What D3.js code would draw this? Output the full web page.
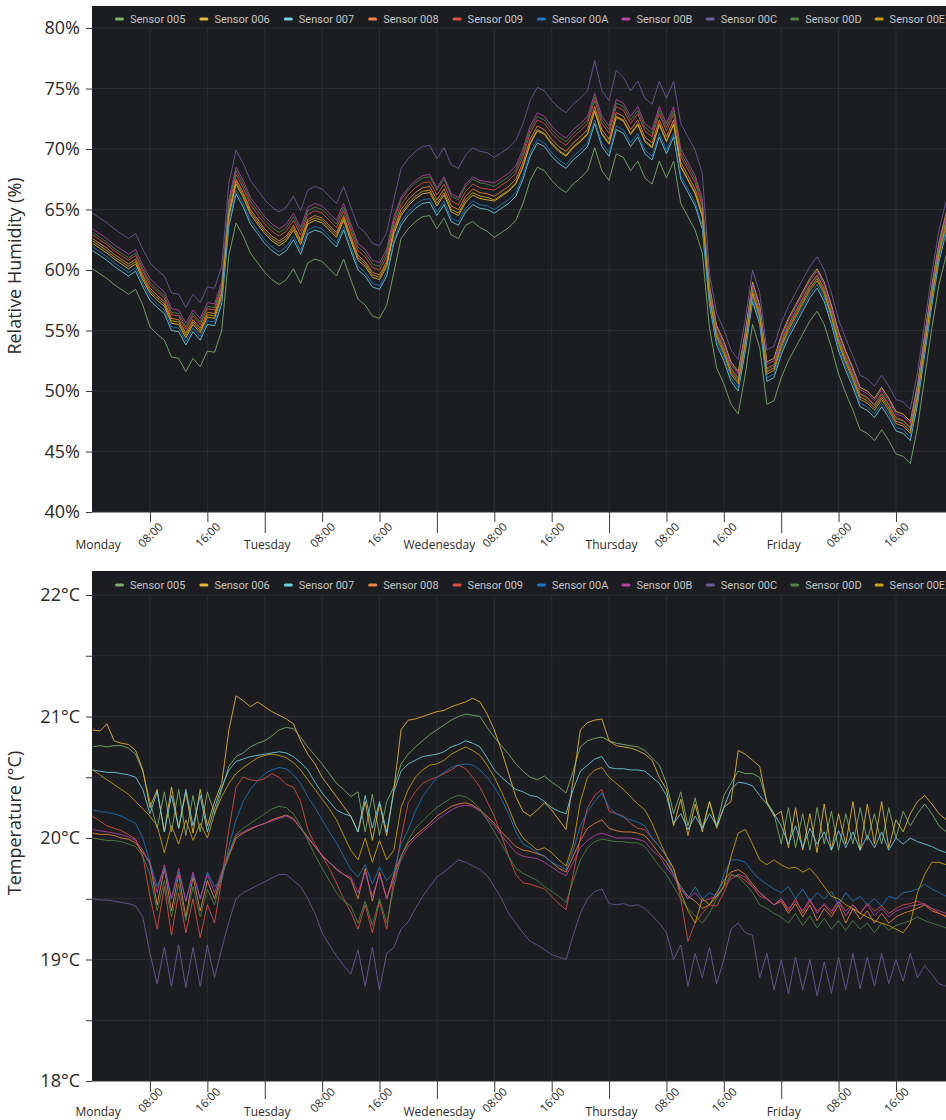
<!DOCTYPE html>
<html>
<head>
<meta charset="utf-8">
<script src="https://cdnjs.cloudflare.com/ajax/libs/d3/7.8.5/d3.min.js"></script>
<style>
  body { margin: 0; background: #ffffff; }
  svg { display: block; }
  .legend { font-family: Roboto, sans-serif; font-size: 11px; fill: #c4c4c4; }
  .axis text { font-family: "Open Sans", sans-serif; fill: #2a2a2a; }
</style>
</head>
<body>
<div id="main"></div>
<script>
'use strict'

const sensors = ["Sensor 005", "Sensor 006", "Sensor 007", "Sensor 008", "Sensor 009",
                 "Sensor 00A", "Sensor 00B", "Sensor 00C", "Sensor 00D", "Sensor 00E"];
const sensorColors = ["#7eb26d", "#eab839", "#6ed0e0", "#ef843c", "#e24d42",
                      "#1f78c1", "#ba43a9", "#705da0", "#508642", "#cca300"];

const dayLabels = ["Monday", "Tuesday", "Wedenesday", "Thursday", "Friday"];
const hourLabels = ["08:00", "16:00"];
const xTicks = [0, 8, 16, 24, 32, 40, 48, 56, 64, 72, 80, 88, 96, 104, 112];
const humidityTicks = [40, 45, 50, 55, 60, 65, 70, 75, 80];
const tempTicks = [18, 18.5, 19, 19.5, 20, 20.5, 21, 21.5, 22];

// hourly readings, Monday 00:00 .. Saturday 00:00
const hum005 = [60.1,59.7,59.3,58.8,58.4,58.0,58.4,57.1,55.3,54.7,54.2,52.8,52.7,51.6,52.7,52.0,53.3,53.2,55.0,
  61.2,63.9,62.8,61.4,60.6,59.8,59.2,58.8,59.2,60.1,58.9,60.6,60.9,60.7,60.1,59.5,60.9,59.2,57.6,57.1,56.2,56.0,57.1,59.8,
  62.6,63.4,64.0,64.4,64.5,63.4,64.3,62.9,62.6,63.7,64.0,63.5,63.2,
  62.7,63.1,63.5,64.1,65.5,67.4,68.5,68.2,67.4,66.8,66.4,67.1,67.6,68.2,70.1,68.2,67.4,69.6,69.3,68.2,69.0,67.6,67.1,69.0,67.6,69.0,65.5,64.4,63.3,61.4,
  55.2,51.9,50.6,48.9,48.1,51.4,55.5,53.6,48.9,49.2,51.1,52.5,53.6,54.7,55.8,56.6,55.5,53.6,51.4,49.8,48.4,46.8,46.5,45.9,46.8,45.9,44.8,44.6,44.0,47.0,51.1,55.2,58.8,61.2,63.1];
const hum006 = [62.2,61.8,61.4,60.9,60.5,60.1,60.5,59.2,58.1,57.5,57.0,55.6,55.5,54.4,55.5,54.8,56.1,56.0,57.8,
  64.4,67.1,66.0,64.6,63.8,63.0,62.4,62.0,62.4,63.3,62.1,63.8,64.1,63.9,63.3,62.7,64.1,62.4,60.8,60.3,59.4,59.2,60.3,63.0,
  64.5,65.3,65.9,66.3,66.4,65.3,66.2,64.8,64.5,65.6,66.2,65.9,65.8,
  65.7,66.1,66.5,67.1,68.5,70.4,71.5,71.2,70.4,69.8,69.4,70.1,70.6,71.2,73.1,71.2,70.4,72.6,72.3,71.2,72.0,70.6,70.1,72.0,70.6,72.0,68.5,67.4,66.3,64.4,
  58.7,55.4,54.1,52.4,51.6,54.9,59.0,57.1,52.4,52.7,54.6,56.0,57.1,58.2,59.3,60.1,59.0,57.1,54.9,53.3,51.9,50.3,50.0,49.4,50.3,49.4,48.3,48.1,47.5,50.5,54.6,58.7,62.3,64.7,66.6];
const hum007 = [61.6,61.2,60.8,60.3,59.9,59.5,59.9,58.6,57.5,56.9,56.4,55.0,54.9,53.8,54.9,54.2,55.5,55.4,57.2,
  63.6,66.3,65.2,63.8,63.0,62.2,61.6,61.2,61.6,62.5,61.3,63.0,63.3,63.1,62.5,61.9,63.3,61.6,60.0,59.5,58.6,58.4,59.5,62.2,
  63.7,64.5,65.1,65.5,65.6,64.5,65.4,64.0,63.7,64.8,65.4,65.1,65.0,
  64.7,65.1,65.5,66.1,67.5,69.4,70.5,70.2,69.4,68.8,68.4,69.1,69.6,70.2,72.1,70.2,69.4,71.6,71.3,70.2,71.0,69.6,69.1,71.0,69.6,71.0,67.5,66.4,65.3,63.4,
  57.1,53.8,52.5,50.8,50.0,53.3,57.4,55.5,50.8,51.1,53.0,54.4,55.5,56.6,57.7,58.5,57.4,55.5,53.3,51.7,50.3,48.7,48.4,47.8,48.7,47.8,46.7,46.5,45.9,48.9,53.0,57.1,60.7,63.1,65.0];
const hum008 = [62.6,62.2,61.8,61.3,60.9,60.5,60.9,59.6,58.5,57.9,57.4,56.0,55.9,54.8,55.9,55.2,56.5,56.4,58.2,
  64.8,67.5,66.4,65.0,64.2,63.4,62.8,62.4,62.8,63.7,62.5,64.2,64.5,64.3,63.7,63.1,64.5,62.8,61.2,60.7,59.8,59.6,60.7,63.4,
  65.0,65.8,66.4,66.8,66.9,65.8,66.7,65.3,65.0,66.1,66.7,66.4,66.3,
  66.1,66.5,66.9,67.5,68.9,70.8,71.9,71.6,70.8,70.2,69.8,70.5,71.0,71.6,73.5,71.6,70.8,73.0,72.7,71.6,72.4,71.0,70.5,72.4,71.0,72.4,68.9,67.8,66.7,64.8,
  57.9,54.6,53.3,51.6,50.8,54.1,58.2,56.3,51.6,51.9,53.8,55.2,56.3,57.4,58.5,59.3,58.2,56.3,54.1,52.5,51.1,49.5,49.2,48.6,49.5,48.6,47.5,47.3,46.7,49.7,53.8,57.9,61.5,63.9,65.8];
const hum009 = [62.9,62.5,62.1,61.6,61.2,60.8,61.2,59.9,58.8,58.2,57.7,56.3,56.2,55.1,56.2,55.5,56.8,56.7,58.5,
  65.2,67.9,66.8,65.4,64.6,63.8,63.2,62.8,63.2,64.1,62.9,64.6,64.9,64.7,64.1,63.5,64.9,63.2,61.6,61.1,60.2,60.0,61.1,63.8,
  65.4,66.2,66.8,67.2,67.3,66.2,67.1,65.7,65.4,66.5,67.1,66.8,66.7,
  66.6,67.0,67.4,68.0,69.4,71.3,72.4,72.1,71.3,70.7,70.3,71.0,71.5,72.1,74.0,72.1,71.3,73.5,73.2,72.1,72.9,71.5,71.0,72.9,71.5,72.9,69.4,68.3,67.2,65.3,
  58.2,54.9,53.6,51.9,51.1,54.4,58.5,56.6,51.9,52.2,54.1,55.5,56.6,57.7,58.8,59.6,58.5,56.6,54.4,52.8,51.4,49.8,49.5,48.9,49.8,48.9,47.8,47.6,47.0,50.0,54.1,58.2,61.8,64.2,66.1];
const hum00A = [61.9,61.5,61.1,60.6,60.2,59.8,60.2,58.9,57.8,57.2,56.7,55.3,55.2,54.1,55.2,54.5,55.8,55.7,57.5,
  63.9,66.6,65.5,64.1,63.3,62.5,61.9,61.5,61.9,62.8,61.6,63.3,63.6,63.4,62.8,62.2,63.6,61.9,60.3,59.8,58.9,58.7,59.8,62.5,
  64.0,64.8,65.4,65.8,65.9,64.8,65.7,64.3,64.0,65.1,65.7,65.4,65.3,
  65.0,65.4,65.8,66.4,67.8,69.7,70.8,70.5,69.7,69.1,68.7,69.4,69.9,70.5,72.4,70.5,69.7,71.9,71.6,70.5,71.3,69.9,69.4,71.3,69.9,71.3,67.8,66.7,65.6,63.7,
  57.4,54.1,52.8,51.1,50.3,53.6,57.7,55.8,51.1,51.4,53.3,54.7,55.8,56.9,58.0,58.8,57.7,55.8,53.6,52.0,50.6,49.0,48.7,48.1,49.0,48.1,47.0,46.8,46.2,49.2,53.3,57.4,61.0,63.4,65.3];
const hum00B = [63.4,63.0,62.6,62.1,61.7,61.3,61.7,60.4,59.3,58.7,58.2,56.8,56.7,55.6,56.7,56.0,57.3,57.2,59.0,
  65.8,68.5,67.4,66.0,65.2,64.4,63.8,63.4,63.8,64.7,63.5,65.2,65.5,65.3,64.7,64.1,65.5,63.8,62.2,61.7,60.8,60.6,61.7,64.4,
  66.0,66.8,67.4,67.8,67.9,66.8,67.7,66.3,66.0,67.1,67.7,67.4,67.3,
  67.2,67.6,68.0,68.6,70.0,71.9,73.0,72.7,71.9,71.3,70.9,71.6,72.1,72.7,74.6,72.7,71.9,74.1,73.8,72.7,73.5,72.1,71.6,73.5,72.1,73.5,70.0,68.9,67.8,65.9,
  58.5,55.2,53.9,52.2,51.4,54.7,58.8,56.9,52.2,52.5,54.4,55.8,56.9,58.0,59.1,59.9,58.8,56.9,54.7,53.1,51.7,50.1,49.8,49.2,50.1,49.2,48.1,47.9,47.3,50.3,54.4,58.5,62.1,64.5,66.4];
const hum00C = [64.7,64.3,63.9,63.4,63.0,62.6,63.0,61.7,60.6,60.0,59.5,58.1,58.0,56.9,58.0,57.3,58.6,58.5,60.3,
  67.2,69.9,68.8,67.4,66.6,65.8,65.2,64.8,65.2,66.1,64.9,66.6,66.9,66.7,66.1,65.5,66.9,65.2,63.6,63.1,62.2,62.0,63.1,65.8,
  68.4,69.2,69.8,70.2,70.3,69.2,70.1,68.7,68.4,69.5,70.1,69.8,69.7,
  69.3,69.7,70.1,70.7,72.1,74.0,75.1,74.8,74.0,73.4,73.0,73.7,74.2,74.8,77.3,74.8,74.0,76.5,75.9,74.8,75.6,74.2,73.7,75.6,74.2,75.6,72.1,71.0,69.9,68.0,
  59.7,56.4,55.1,53.4,52.6,55.9,60.0,58.1,53.4,53.7,55.6,57.0,58.1,59.2,60.3,61.1,60.0,58.1,55.9,54.3,52.9,51.3,51.0,50.4,51.3,50.4,49.3,49.1,48.5,51.5,55.6,59.7,63.3,65.7,67.6];
const hum00D = [63.1,62.7,62.3,61.8,61.4,61.0,61.4,60.1,59.0,58.4,57.9,56.5,56.4,55.3,56.4,55.7,57.0,56.9,58.7,
  65.5,68.2,67.1,65.7,64.9,64.1,63.5,63.1,63.5,64.4,63.2,64.9,65.2,65.0,64.4,63.8,65.2,63.5,61.9,61.4,60.5,60.3,61.4,64.1,
  65.8,66.6,67.2,67.6,67.7,66.6,67.5,66.1,65.8,66.9,67.5,67.2,67.1,
  66.9,67.3,67.7,68.3,69.7,71.6,72.7,72.4,71.6,71.0,70.6,71.3,71.8,72.4,74.3,72.4,71.6,73.8,73.5,72.4,73.2,71.8,71.3,73.2,71.8,73.2,69.7,68.6,67.5,65.6,
  58.1,54.8,53.5,51.8,51.0,54.3,58.4,56.5,51.8,52.1,54.0,55.4,56.5,57.6,58.7,59.5,58.4,56.5,54.3,52.7,51.3,49.7,49.4,48.8,49.7,48.8,47.7,47.5,46.9,49.9,54.0,58.1,61.7,64.1,66.0];
const hum00E = [62.4,62.0,61.6,61.1,60.7,60.3,60.7,59.4,58.3,57.7,57.2,55.8,55.7,54.6,55.7,55.0,56.3,56.2,58.0,
  64.6,67.3,66.2,64.8,64.0,63.2,62.6,62.2,62.6,63.5,62.3,64.0,64.3,64.1,63.5,62.9,64.3,62.6,61.0,60.5,59.6,59.4,60.5,63.2,
  64.7,65.5,66.1,66.5,66.6,65.5,66.4,65.0,64.7,65.8,66.4,66.1,66.0,
  65.8,66.2,66.6,67.2,68.6,70.5,71.6,71.3,70.5,69.9,69.5,70.2,70.7,71.3,73.2,71.3,70.5,72.7,72.4,71.3,72.1,70.7,70.2,72.1,70.7,72.1,68.6,67.5,66.4,64.5,
  57.7,54.4,53.1,51.4,50.6,53.9,58.0,56.1,51.4,51.7,53.6,55.0,56.1,57.2,58.3,59.1,58.0,56.1,53.9,52.3,50.9,49.3,49.0,48.4,49.3,48.4,47.3,47.1,46.5,49.5,53.6,57.7,61.3,63.7,65.6];

const temp005 = [20.75,20.76,20.75,20.76,20.76,20.74,20.69,20.55,20.30,20.08,
  20.38,20.05,20.40,20.02,20.35,20.05,20.38,20.20,20.40,20.59,
  20.67,20.70,20.75,20.78,20.80,20.84,20.89,20.91,20.90,20.83,
  20.75,20.68,20.61,20.53,20.45,20.40,20.34,20.38,20.05,20.36,
  20.02,20.30,20.42,20.61,20.69,20.75,20.80,20.85,20.89,20.93,
  20.97,21.00,21.02,21.01,21.00,20.91,20.83,20.76,20.69,20.61,
  20.55,20.50,20.48,20.51,20.46,20.42,20.37,20.55,20.75,20.80,
  20.82,20.83,20.80,20.78,20.77,20.76,20.75,20.72,20.66,20.60,
  20.45,20.20,20.38,20.10,20.33,20.08,20.30,20.10,20.35,20.45,
  20.55,20.53,20.53,20.50,20.30,20.20,19.95,20.25,19.92,20.20,
  19.90,20.25,19.95,20.22,19.90,20.20,19.95,20.25,19.98,20.20,
  19.95,20.25,20.00,20.22,20.10,20.20,20.28,20.20,20.10,20.05,20.05];
const temp006 = [20.89,20.88,20.94,20.80,20.78,20.77,20.72,20.56,20.25,20.40,
  20.05,20.42,20.08,20.38,20.04,20.40,20.10,20.30,20.45,20.89,
  21.17,21.13,21.08,21.12,21.08,21.04,21.01,20.98,20.94,20.80,
  20.69,20.61,20.50,20.42,20.34,20.26,20.18,20.05,20.30,19.98,
  20.28,20.02,20.40,20.89,20.97,20.98,21.00,21.02,21.04,21.05,
  21.08,21.10,21.12,21.15,21.12,21.02,20.89,20.72,20.53,20.34,
  20.22,20.18,20.23,20.29,20.23,20.15,20.07,20.48,20.89,20.95,
  20.97,20.98,20.80,20.76,20.75,20.74,20.72,20.69,20.64,20.50,
  20.40,20.10,20.32,20.02,20.28,20.05,20.30,20.08,20.25,20.30,
  20.72,20.69,20.64,20.59,20.29,20.18,20.22,19.92,20.25,19.90,
  20.20,19.88,20.28,19.90,20.20,19.95,20.30,19.90,20.28,19.95,
  20.30,19.92,20.15,20.05,20.20,20.30,20.35,20.28,20.20,20.15,20.12];
const temp007 = [20.56,20.55,20.54,20.54,20.53,20.52,20.50,20.40,20.20,20.38,
  20.05,20.35,20.08,20.40,20.10,20.35,20.05,20.25,20.42,20.56,
  20.63,20.65,20.67,20.68,20.69,20.70,20.71,20.70,20.67,20.62,
  20.56,20.46,20.37,20.30,20.23,20.20,20.18,20.05,20.35,20.08,
  20.30,20.05,20.38,20.55,20.61,20.64,20.67,20.68,20.69,20.71,
  20.75,20.77,20.80,20.78,20.75,20.66,20.56,20.50,20.45,20.40,
  20.38,20.35,20.34,20.30,20.25,20.22,20.20,20.40,20.55,20.60,
  20.65,20.67,20.58,20.57,20.57,20.56,20.56,20.55,20.50,20.45,
  20.35,20.12,20.20,20.07,20.18,20.08,20.20,20.10,20.25,20.40,
  20.46,20.45,20.43,20.35,20.28,20.20,20.10,19.95,20.10,19.92,
  20.08,19.95,20.05,19.90,20.06,19.92,20.05,19.90,20.02,19.92,
  20.05,19.90,20.00,19.95,20.00,19.97,19.95,19.93,19.90,19.88,19.88];
const temp008 = [20.04,20.03,20.03,20.02,20.00,19.99,19.96,19.88,19.80,19.45,
  19.75,19.40,19.70,19.35,19.68,19.40,19.65,19.50,19.70,19.85,
  20.00,20.04,20.07,20.10,20.12,20.15,20.17,20.19,20.16,20.08,
  20.01,19.93,19.85,19.80,19.74,19.70,19.66,19.50,19.75,19.48,
  19.72,19.50,19.70,19.85,19.96,20.02,20.07,20.12,20.18,20.22,
  20.26,20.28,20.29,20.27,20.23,20.18,20.12,20.05,19.99,19.93,
  19.90,19.89,19.87,19.85,19.80,19.75,19.72,19.85,19.98,20.08,
  20.12,20.15,20.08,20.06,20.05,20.05,20.04,20.02,19.95,19.87,
  19.80,19.70,19.60,19.52,19.48,19.42,19.45,19.55,19.65,19.72,
  19.74,19.70,19.62,19.55,19.50,19.45,19.48,19.38,19.46,19.35,
  19.45,19.32,19.42,19.35,19.45,19.30,19.42,19.33,19.40,19.30,
  19.38,19.30,19.35,19.38,19.40,19.42,19.45,19.40,19.38,19.35,19.35];
const temp009 = [20.18,20.14,20.10,20.08,20.06,20.03,19.99,19.85,19.52,19.25,
  19.60,19.20,19.55,19.22,19.50,19.18,19.45,19.30,19.66,20.07,
  20.42,20.50,20.48,20.47,20.49,20.53,20.50,20.44,20.42,20.30,
  20.07,19.95,19.85,19.75,19.63,19.50,19.39,19.25,19.45,19.22,
  19.48,19.25,19.66,20.00,20.29,20.38,20.45,20.48,20.50,20.53,
  20.56,20.60,20.57,20.50,20.42,20.30,20.18,20.02,19.85,19.70,
  19.63,19.62,19.60,19.58,19.52,19.46,19.41,19.70,20.00,20.25,
  20.35,20.40,20.22,20.20,20.18,20.12,20.08,20.07,20.00,19.93,
  19.85,19.75,19.50,19.15,19.30,19.38,19.45,19.44,19.55,19.69,
  19.69,19.65,19.60,19.52,19.50,19.45,19.50,19.40,19.50,19.38,
  19.48,19.40,19.45,19.38,19.48,19.40,19.45,19.38,19.46,19.40,
  19.44,19.38,19.42,19.45,19.46,19.48,19.45,19.42,19.38,19.36,19.36];
const temp00A = [20.23,20.22,20.21,20.20,20.18,20.15,20.12,20.00,19.80,19.60,
  19.75,19.50,19.72,19.48,19.70,19.50,19.72,19.60,19.65,19.93,
  20.15,20.30,20.40,20.47,20.53,20.56,20.58,20.57,20.52,20.45,
  20.34,20.25,20.15,20.05,19.96,19.85,19.74,19.68,19.78,19.62,
  19.76,19.65,19.72,19.95,20.07,20.22,20.34,20.42,20.50,20.54,
  20.58,20.60,20.61,20.60,20.56,20.50,20.42,20.32,20.20,20.05,
  19.95,19.92,19.88,19.85,19.80,19.77,19.74,19.90,20.10,20.22,
  20.30,20.37,20.25,20.20,20.17,20.15,20.13,20.10,20.00,19.93,
  19.85,19.70,19.60,19.50,19.60,19.50,19.55,19.52,19.70,19.82,
  19.82,19.80,19.72,19.66,19.62,19.58,19.55,19.60,19.50,19.58,
  19.48,19.55,19.50,19.56,19.45,19.55,19.48,19.52,19.45,19.50,
  19.44,19.52,19.50,19.55,19.56,19.58,19.62,19.58,19.55,19.52,19.52];
const temp00B = [20.07,20.06,20.05,20.04,20.03,20.01,19.98,19.90,19.78,19.55,
  19.78,19.50,19.75,19.48,19.72,19.50,19.70,19.55,19.72,19.87,
  20.02,20.05,20.08,20.10,20.12,20.14,20.16,20.18,20.15,20.08,
  20.00,19.93,19.86,19.80,19.75,19.70,19.68,19.55,19.72,19.52,
  19.70,19.50,19.66,19.82,19.93,20.00,20.05,20.10,20.15,20.19,
  20.23,20.26,20.27,20.26,20.22,20.16,20.10,20.02,19.95,19.88,
  19.85,19.84,19.83,19.80,19.76,19.72,19.69,19.80,19.92,19.98,
  20.02,20.04,20.02,20.00,20.00,20.00,19.99,19.97,19.90,19.85,
  19.76,19.68,19.58,19.50,19.55,19.48,19.50,19.52,19.60,19.66,
  19.70,19.68,19.60,19.55,19.50,19.45,19.50,19.42,19.48,19.40,
  19.50,19.38,19.46,19.40,19.48,19.36,19.45,19.38,19.45,19.36,
  19.42,19.35,19.40,19.42,19.44,19.45,19.46,19.42,19.40,19.38,19.38];
const temp00C = [19.50,19.49,19.49,19.48,19.47,19.46,19.44,19.35,19.05,18.80,
  19.10,18.78,19.12,18.77,19.10,18.78,19.12,18.85,19.09,19.31,
  19.50,19.55,19.58,19.61,19.64,19.67,19.70,19.70,19.65,19.60,
  19.50,19.38,19.22,19.12,19.03,18.95,18.88,19.08,18.78,19.10,
  18.75,19.05,19.10,19.25,19.31,19.42,19.52,19.60,19.68,19.72,
  19.77,19.82,19.80,19.77,19.74,19.69,19.60,19.50,19.38,19.30,
  19.22,19.15,19.12,19.08,19.04,19.02,19.00,19.20,19.38,19.50,
  19.56,19.58,19.46,19.45,19.46,19.44,19.45,19.42,19.36,19.30,
  19.22,19.00,19.12,18.78,19.05,18.85,19.10,18.80,19.00,19.25,
  19.30,19.22,19.20,18.85,19.05,18.75,19.00,18.72,19.02,18.75,
  19.00,18.70,18.98,18.72,19.02,18.75,19.05,18.76,19.02,18.78,
  19.05,18.80,19.00,18.82,19.05,18.85,18.95,18.88,18.80,18.78,18.78];
const temp00D = [20.00,19.99,19.98,19.98,19.97,19.95,19.93,19.85,19.70,19.40,
  19.65,19.35,19.62,19.32,19.60,19.35,19.58,19.45,19.68,19.88,
  20.03,20.08,20.12,20.16,20.20,20.24,20.26,20.25,20.20,20.10,
  19.98,19.86,19.75,19.65,19.55,19.48,19.44,19.30,19.48,19.28,
  19.50,19.30,19.60,19.85,19.98,20.08,20.14,20.20,20.25,20.29,
  20.33,20.35,20.34,20.30,20.24,20.15,20.05,19.95,19.85,19.75,
  19.71,19.68,19.65,19.60,19.56,19.52,19.47,19.65,19.82,19.92,
  19.97,19.99,19.98,19.97,19.97,19.96,19.96,19.93,19.85,19.77,
  19.70,19.60,19.50,19.42,19.36,19.30,19.38,19.50,19.60,19.70,
  19.68,19.62,19.55,19.45,19.42,19.38,19.35,19.30,19.38,19.28,
  19.36,19.26,19.34,19.25,19.32,19.24,19.32,19.25,19.30,19.22,
  19.30,19.24,19.28,19.30,19.32,19.35,19.32,19.30,19.28,19.26,19.26];
const temp00E = [20.56,20.52,20.48,20.44,20.40,20.36,20.30,20.24,20.18,20.10,
  19.88,20.10,19.95,20.15,19.98,20.12,20.00,20.20,20.34,20.45,
  20.53,20.58,20.62,20.66,20.68,20.69,20.68,20.66,20.62,20.56,
  20.48,20.40,20.32,20.24,20.15,20.02,19.90,19.82,20.00,19.80,
  19.98,19.82,19.90,20.25,20.40,20.50,20.56,20.60,20.61,20.64,
  20.69,20.72,20.75,20.72,20.68,20.60,20.50,20.38,20.25,20.10,
  20.00,19.95,19.90,19.92,19.88,19.82,19.77,19.95,20.30,20.50,
  20.56,20.58,20.50,20.45,20.40,20.34,20.28,20.23,20.12,19.98,
  19.85,19.75,19.55,19.40,19.30,19.50,19.45,19.52,19.60,19.85,
  20.04,20.07,19.95,19.82,19.78,19.82,19.78,19.75,19.76,19.72,
  19.75,19.68,19.60,19.52,19.50,19.45,19.42,19.38,19.35,19.32,
  19.30,19.28,19.25,19.22,19.30,19.55,19.70,19.80,19.80,19.78,19.78];

document.addEventListener('DOMContentLoaded', function(){
  drawChart();
});

function drawChart(){
  let svgWidth = 946;
  let svgHeight = 1120;

  let svg = d3.select('#main')
    .append('svg')
    .attr('width', svgWidth)
    .attr('height', svgHeight);

  let humiditySeries = [hum005, hum006, hum007, hum008, hum009, hum00A, hum00B, hum00C, hum00D, hum00E];
  let tempSeries = [temp005, temp006, temp007, temp008, temp009, temp00A, temp00B, temp00C, temp00D, temp00E];

  drawPanel(svg, {
    id: "hum",
    panelTop: 6, plotTop: 28, plotBottom: 512,
    domain: [40, 80], yTicks: humidityTicks,
    yFormat: d => d + "%",
    title: "Relative Humidity (%)", titleY: 266,
    series: humiditySeries, legendY: 19,
    minorTick: 10, majorTick: 21, hourLabelY: 23, dayLabelY: 33
  });

  drawPanel(svg, {
    id: "temp",
    panelTop: 571, plotTop: 595, plotBottom: 1081,
    domain: [18, 22], yTicks: tempTicks,
    yFormat: d => d % 1 === 0 ? d + "°C" : "",
    title: "Temperature (°C)", titleY: 823,
    series: tempSeries, legendY: 585,
    minorTick: 11, majorTick: 18, hourLabelY: 19, dayLabelY: 31
  });
}

function drawPanel(svg, p){
  let panelLeft = 92;
  let panelRight = 960;

  let xScale = d3.scaleLinear()
    .domain([0, 120])
    .range([92.6, 92.6 + 120 * 7.173]);
  let yScale = d3.scaleLinear()
    .domain(p.domain)
    .range([p.plotBottom, p.plotTop]);

  //Panel background
  svg.append("rect")
    .attr("x", panelLeft)
    .attr("y", p.panelTop)
    .attr("width", panelRight - panelLeft)
    .attr("height", p.plotBottom - p.panelTop)
    .attr("fill", "#1b1d21");

  svg.append("clipPath")
    .attr("id", "clip-" + p.id)
    .append("rect")
    .attr("x", panelLeft)
    .attr("y", p.panelTop)
    .attr("width", panelRight - panelLeft)
    .attr("height", p.plotBottom - p.panelTop);

  //Grid lines
  let grid = svg.append("g");
  grid.selectAll(".hgrid")
    .data(p.yTicks)
    .enter()
    .append("line")
    .attr("class", "hgrid")
    .attr("x1", panelLeft)
    .attr("x2", panelRight)
    .attr("y1", d => yScale(d))
    .attr("y2", d => yScale(d))
    .attr("stroke", "#2b2e34")
    .attr("stroke-width", 1);
  grid.selectAll(".vgrid")
    .data(xTicks.filter(d => d > 0))
    .enter()
    .append("line")
    .attr("class", "vgrid")
    .attr("x1", d => xScale(d))
    .attr("x2", d => xScale(d))
    .attr("y1", p.plotTop)
    .attr("y2", p.plotBottom)
    .attr("stroke", "#2b2e34")
    .attr("stroke-width", 1);

  //Sensor lines
  let line = d3.line()
    .x((d, i) => xScale(i))
    .y(d => yScale(d));

  svg.append("g")
    .attr("clip-path", "url(#clip-" + p.id + ")")
    .selectAll("path")
    .data(p.series)
    .enter()
    .append("path")
    .attr("d", line)
    .attr("fill", "none")
    .attr("stroke", (d, i) => sensorColors[i])
    .attr("stroke-width", 1)
    .attr("stroke-opacity", 0.85)
    .attr("stroke-linejoin", "round");

  //Legend
  let legend = svg.append("g")
    .selectAll("g")
    .data(sensors)
    .enter()
    .append("g")
    .attr("transform", (d, i) => "translate(" + (115 + i * 84.4) + "," + p.legendY + ")");
  legend.append("rect")
    .attr("x", 0)
    .attr("y", -1.5)
    .attr("width", 9)
    .attr("height", 3)
    .attr("rx", 1.5)
    .attr("fill", (d, i) => sensorColors[i]);
  legend.append("text")
    .attr("class", "legend")
    .attr("x", 15)
    .attr("dy", "0.35em")
    .text(d => d);

  //x axis
  const xAxis = d3.axisBottom(xScale)
    .tickValues(xTicks)
    .tickSize(p.minorTick)
    .tickFormat(d => d % 24 === 0 ? dayLabels[d / 24] : hourLabels[(d % 24) / 8 - 1]);

  let gx = svg.append("g")
    .attr("class", "axis")
    .attr("transform", "translate(0," + p.plotBottom + ")")
    .call(xAxis);
  gx.select(".domain").remove();
  gx.selectAll(".tick line")
    .attr("stroke", "#3a3a3a")
    .attr("y2", d => d % 24 === 0 ? p.majorTick : p.minorTick)
    .attr("opacity", d => d === 0 ? 0 : 1);
  gx.selectAll(".tick text")
    .attr("y", 0)
    .attr("dy", "0.35em")
    .attr("font-size", d => d % 24 === 0 ? "12px" : "11.5px")
    .attr("text-anchor", "middle")
    .attr("transform", d => d % 24 === 0
      ? "translate(" + (d === 0 ? 5 : 2) + "," + p.dayLabelY + ")"
      : "translate(0," + p.hourLabelY + ") rotate(-45)");

  //y axis
  const yAxis = d3.axisLeft(yScale)
    .tickValues(p.yTicks)
    .tickSize(6)
    .tickPadding(6)
    .tickFormat(p.yFormat);

  let gy = svg.append("g")
    .attr("class", "axis")
    .attr("transform", "translate(" + panelLeft + ",0)")
    .call(yAxis);
  gy.select(".domain").remove();
  gy.selectAll(".tick line").attr("stroke", "#3a3a3a");
  gy.selectAll(".tick text").attr("font-size", "18px");

  svg.append("text")
    .attr("class", "axis")
    .attr("transform", "translate(21," + p.titleY + ") rotate(-90)")
    .attr("text-anchor", "middle")
    .attr("font-family", "Open Sans, sans-serif")
    .attr("font-size", "18px")
    .attr("fill", "#2a2a2a")
    .text(p.title);
}
</script>
</body>
</html>
